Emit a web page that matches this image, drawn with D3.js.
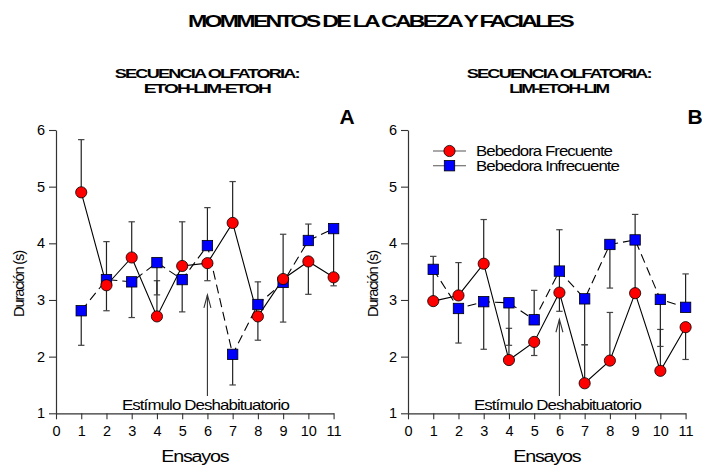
<!DOCTYPE html>
<html><head><meta charset="utf-8">
<script src="https://cdn.jsdelivr.net/npm/d3@7"></script>
<style>body{margin:0;background:#fff}svg{display:block}</style></head>
<body><svg id="c" width="702" height="465"></svg>
<script>
// ---- data ----
const trials = [1,2,3,4,5,6,7,8,9,10,11];
const xTicks = [0,1,2,3,4,5,6,7,8,9,10,11];
const yTicks = [1,2,3,4,5,6];
const seriesNames = ["Bebedora Frecuente", "Bebedora Infrecuente"];

// Panel A: ETOH-LIM-ETOH
const aFrec   = [4.90,3.26,3.75,2.71,3.60,3.65,4.36,2.71,3.37,3.68,3.40];
const aFrecHi = [5.83,3.26,4.38,3.34,4.38,3.65,5.09,2.71,4.16,3.68,3.40];
const aFrecLo = [4.90,2.81,3.75,2.71,3.60,3.34,4.36,2.29,3.37,3.10,3.25];
const aInf    = [2.81,3.36,3.32,3.66,3.36,3.96,2.04,2.92,3.31,4.05,4.26];
const aInfHi  = [2.81,4.03,3.32,3.66,3.36,4.63,2.04,3.32,3.31,4.34,4.26];
const aInfLo  = [2.20,3.36,2.69,3.09,2.79,3.96,1.50,2.92,2.61,4.05,3.40];

// Panel B: LIM-ETOH-LIM
const bFrec   = [2.98,3.08,3.64,1.94,2.26,3.13,1.53,1.93,3.12,1.75,2.52];
const bFrecHi = [3.50,3.66,4.42,2.50,2.26,3.45,2.21,2.78,4.00,2.48,2.52];
const bFrecLo = [2.98,3.08,3.64,1.94,2.02,2.80,1.53,1.93,3.12,1.75,1.95];
const bInf    = [3.54,2.85,2.97,2.95,2.65,3.51,3.02,3.98,4.06,3.01,2.87];
const bInfHi  = [3.77,2.85,2.97,2.95,3.17,4.24,3.02,3.98,4.51,3.01,3.46];
const bInfLo  = [3.54,2.24,2.13,2.20,2.65,3.51,2.21,3.21,4.06,2.18,2.87];

const stimTrial = 6;
const arrowTip = [3.09, 2.66];
const titleText = "MOMMENTOS DE LA CABEZA Y FACIALES";
const subtitles = [["SECUENCIA OLFATORIA:", "ETOH-LIM-ETOH"], ["SECUENCIA OLFATORIA:", "LIM-ETOH-LIM"]];
const panelLetters = ["A", "B"];

// ---- drawing ----
const FONT = "'Liberation Sans', Arial, Helvetica, sans-serif";
const svg = d3.select("#c");
svg.append("rect").attr("width",702).attr("height",465).attr("fill","#fff");

function txt(g, x, y, s, size, opts={}) {
  const t = g.append("text").attr("x", x).attr("y", y).text(s)
    .attr("font-family", FONT).attr("font-size", size)
    .attr("font-weight", opts.bold ? "bold" : "normal")
    .attr("text-anchor", opts.anchor || "middle").attr("fill", "#000");
  if (opts.len) t.attr("textLength", opts.len).attr("lengthAdjust", "spacingAndGlyphs");
  if (opts.ls != null) t.attr("letter-spacing", opts.ls);
  return t;
}

txt(svg, 380, 26.5, titleText, 17, {bold:true, len:384, ls:-2});

const panels = [
  {x0:56, frec:aFrec, fHi:aFrecHi, fLo:aFrecLo, inf:aInf, iHi:aInfHi, iLo:aInfLo, legend:false},
  {x0:408, frec:bFrec, fHi:bFrecHi, fLo:bFrecLo, inf:bInf, iHi:bInfHi, iLo:bInfLo, legend:true}
];

panels.forEach((p, pi) => {
  const g = svg.append("g");
  const x = d3.scaleLinear().domain([0, 11]).range([p.x0, p.x0 + 277.6]);
  const y = d3.scaleLinear().domain([1, 6]).range([413.3, 130]);
  const cx = (x(0) + x(11)) / 2;

  // subtitles
  txt(g, cx + 12, 78.3, subtitles[pi][0], 12, {bold:true, len:184, ls:-1.2});
  txt(g, cx + 12, 93.3, subtitles[pi][1], 12, {bold:true, len: pi===0 ? 126 : 99, ls:-1.2});
  txt(g, x(11) + (pi===0 ? 21 : 17), 124, panelLetters[pi], 21, {bold:true, anchor:"end"});

  // axes
  const xa = g.append("g").attr("transform", `translate(0,${y(1)})`)
    .call(d3.axisBottom(x).tickValues(xTicks).tickFormat(d3.format("d")).tickSize(6).tickSizeOuter(0).tickPadding(6));
  const ya = g.append("g").attr("transform", `translate(${x(0)},0)`)
    .call(d3.axisLeft(y).tickValues(yTicks).tickFormat(d3.format("d")).tickSize(7).tickSizeOuter(0).tickPadding(4));
  [xa, ya].forEach(a => {
    a.select(".domain").attr("stroke", "#333").attr("stroke-width", 1.2);
    a.selectAll(".tick line").attr("stroke", "#333").attr("stroke-width", 1.1);
    a.selectAll(".tick text").attr("font-family", FONT).attr("font-size", 14.5).attr("fill", "#000");
  });

  // axis titles
  txt(g, cx, 461.5, "Ensayos", 16, {len:67, ls:-1});
  txt(g, 0, 0, "Duración (s)", 15, {len:66, ls:-1.2})
    .attr("transform", `translate(${x(0) - 37 + (pi===1?2:0)},${284}) rotate(-90)`)
    .attr("x", 0).attr("y", 5);

  // stimulus arrow & label
  const ax = x(stimTrial), ty = y(arrowTip[pi]);
  g.append("line").attr("x1", ax).attr("x2", ax).attr("y1", 396).attr("y2", ty)
    .attr("stroke", "#333").attr("stroke-width", 1.1);
  g.append("path").attr("d", `M${ax-3.5},${ty+13}L${ax},${ty}L${ax+3.5},${ty+13}`)
    .attr("fill", "none").attr("stroke", "#333").attr("stroke-width", 1.1);
  txt(g, ax - 2, 409.5, "Estímulo Deshabituatorio", 15, {len:167, ls:-0.8});

  // error bars
  function bars(vals, ends) {
    trials.forEach((t, i) => {
      if (Math.abs(ends[i] - vals[i]) < 0.005) return;
      g.append("line").attr("x1", x(t)).attr("x2", x(t)).attr("y1", y(vals[i])).attr("y2", y(ends[i]))
        .attr("stroke", "#222").attr("stroke-width", 1.2);
      g.append("line").attr("x1", x(t) - 3.2).attr("x2", x(t) + 3.2).attr("y1", y(ends[i])).attr("y2", y(ends[i]))
        .attr("stroke", "#444").attr("stroke-width", 1.2);
    });
  }
  bars(p.frec, p.fHi); bars(p.frec, p.fLo);
  bars(p.inf, p.iHi); bars(p.inf, p.iLo);

  // lines
  const line = d3.line().x((d, i) => x(trials[i])).y(d => y(d));
  g.append("path").datum(p.frec).attr("d", line).attr("fill", "none")
    .attr("stroke", "#000").attr("stroke-width", 1.1);
  g.append("path").datum(p.inf).attr("d", line).attr("fill", "none")
    .attr("stroke", "#000").attr("stroke-width", 1.1).attr("stroke-dasharray", "9,5");

  // markers
  g.selectAll(".sq").data(p.inf).join("rect")
    .attr("x", (d, i) => x(trials[i]) - 5.2).attr("y", d => y(d) - 5.2)
    .attr("width", 10.4).attr("height", 10.4)
    .attr("fill", "#0000ff").attr("stroke", "#000").attr("stroke-width", 0.8);
  g.selectAll(".ci").data(p.frec).join("circle")
    .attr("cx", (d, i) => x(trials[i])).attr("cy", d => y(d)).attr("r", 5.6)
    .attr("fill", "#ff0000").attr("stroke", "#000").attr("stroke-width", 0.8);

  if (p.legend) {
    const lg = g.append("g");
    const rows = [{y:151, kind:"c"}, {y:165.7, kind:"s"}];
    rows.forEach((r, k) => {
      lg.append("line").attr("x1", 433).attr("x2", 466).attr("y1", r.y).attr("y2", r.y)
        .attr("stroke", "#555").attr("stroke-width", 1.1);
      if (r.kind === "c") lg.append("circle").attr("cx", 449.5).attr("cy", r.y).attr("r", 5.6)
        .attr("fill", "#ff0000").attr("stroke", "#000").attr("stroke-width", 0.8);
      else lg.append("rect").attr("x", 449.5 - 5.2).attr("y", r.y - 5.2).attr("width", 10.4).attr("height", 10.4)
        .attr("fill", "#0000ff").attr("stroke", "#000").attr("stroke-width", 0.8);
      txt(lg, 476, r.y + 5, seriesNames[k], 14, {anchor:"start", len: k===0 ? 136 : 143, ls:-0.8});
    });
  }
});
</script></body></html>
